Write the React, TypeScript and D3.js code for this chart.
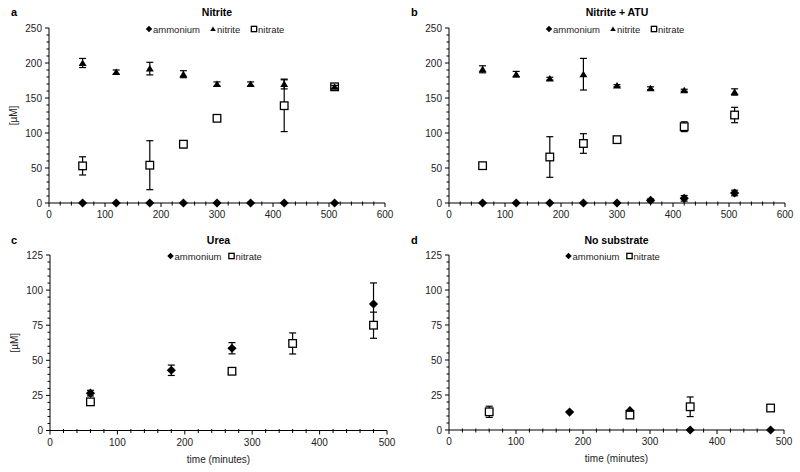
import React from "react";
import * as d3 from "d3";

// ---------- DATA ----------
const timesAB = [60, 120, 180, 240, 300, 360, 420, 510];
const nitrateTimesAB = [60, 180, 240, 300, 420, 510];

// Panel a: Nitrite
const aAmmonium = [0, 0, 0, 0, 0, 0, 0, 0];
const aAmmoniumErr = [0, 0, 0, 0, 0, 0, 0, 0];
const aNitrite = [200, 187, 192, 184, 170, 170, 170, 166];
const aNitriteErr = [6.5, 3, 9, 5, 3, 3, 7, 2];
const aNitrate = [53, 54, 84, 121, 139, 166];
const aNitrateErr = [13, 35, 5, 2, 37, 1];

// Panel b: Nitrite + ATU
const bAmmonium = [0, 0, 0, 0, 0, 3.8, 6.7, 14.3];
const bAmmoniumErr = [0, 0, 0, 0, 0, 2, 4, 4];
const bNitrite = [191, 184, 177.6, 184, 167.6, 164, 161, 158.6];
const bNitriteErr = [5, 4, 2, 22.6, 1.5, 2, 1.5, 4.5];
const bNitrate = [53.3, 65.7, 85, 90.5, 109, 125.7];
const bNitrateErr = [2, 29, 14, 2, 7, 11];

// Panel c: Urea
const cAmmoniumTimes = [60, 180, 270, 480];
const cAmmonium = [26.6, 42.9, 58.6, 90.1];
const cAmmoniumErr = [2, 3.7, 4, 15];
const cNitrateTimes = [60, 270, 360, 480];
const cNitrate = [20.4, 42.2, 62, 75];
const cNitrateErr = [1, 2, 7.5, 9.3];

// Panel d: No substrate
const dAmmoniumTimes = [180, 270, 360, 480];
const dAmmonium = [12.8, 13.8, 0, 0];
const dAmmoniumErr = [0, 0, 0, 0];
const dNitrateTimes = [60, 270, 360, 480];
const dNitrate = [13, 10.7, 16.6, 15.7];
const dNitrateErr = [4, 2, 7, 1];

const FONT = "'Liberation Sans', Arial, sans-serif";

type Series = { kind: "ammonium" | "nitrite" | "nitrate"; t: number[]; v: number[]; e: number[] };

type PanelProps = {
  letter: string;
  title: string;
  x0: number; x1: number; y0: number; y1: number;
  xMax: number; yMax: number; yStep: number; yMinor: number;
  series: Series[];
  legend: { kind: Series["kind"]; dx: number }[];
  yLabel?: boolean; xLabel?: boolean;
  letterX: number; titleY: number;
};

function Marker({ kind, x, y, s = 1 }: { kind: Series["kind"]; x: number; y: number; s?: number }) {
  if (kind === "ammonium") {
    const r = 4.6 * s;
    return <path d={`M${x},${y - r}L${x + r},${y}L${x},${y + r}L${x - r},${y}Z`} fill="#000" />;
  }
  if (kind === "nitrite") {
    const w = 4 * s, h = 6.5 * s;
    return <path d={`M${x},${y - h * 0.55}L${x + w},${y + h * 0.45}L${x - w},${y + h * 0.45}Z`} fill="#000" />;
  }
  const r = 3.8 * s;
  return <rect x={x - r} y={y - r} width={2 * r} height={2 * r} fill="#fff" stroke="#000" strokeWidth={1.3} />;
}

function Panel(p: PanelProps) {
  const x = d3.scaleLinear().domain([0, p.xMax]).range([p.x0, p.x1]);
  const y = d3.scaleLinear().domain([0, p.yMax]).range([p.y0, p.y1]);
  const xMajor = d3.range(0, p.xMax + 1, 100);
  const xMinor = d3.range(0, p.xMax + 1, 20).filter((v) => v % 100 !== 0);
  const yMajor = d3.range(0, p.yMax + 0.001, p.yStep);
  const yMinor = d3.range(0, p.yMax + 0.001, p.yMinor).filter((v) => Math.abs(v / p.yStep - Math.round(v / p.yStep)) > 1e-6);
  const cx = (p.x0 + p.x1) / 2;
  const order: Series["kind"][] = ["ammonium", "nitrate", "nitrite"];
  const sorted = [...p.series].sort((a, b) => order.indexOf(a.kind) - order.indexOf(b.kind));
  return (
    <g fontFamily={FONT}>
      <text x={p.letterX} y={p.titleY} fontSize={11} fontWeight="bold">{p.letter}</text>
      <text x={cx} y={p.titleY} fontSize={10.5} fontWeight="bold" textAnchor="middle">{p.title}</text>
      {/* legend */}
      {p.legend.map((l) => (
        <g key={l.kind}>
          <Marker kind={l.kind} x={cx + l.dx + 3} y={p.y1 + 1} s={0.7} />
          <text x={cx + l.dx + 7} y={p.y1 + 4.5} fontSize={9.5} fill="#222">{l.kind}</text>
        </g>
      ))}
      {/* axes */}
      <line x1={p.x0} x2={p.x0} y1={p.y0} y2={p.y1} stroke="#000" strokeWidth={1} />
      <line x1={p.x0} x2={p.x1} y1={p.y0} y2={p.y0} stroke="#000" strokeWidth={1.2} />
      {yMajor.map((v) => (
        <g key={"ym" + v}>
          <line x1={p.x0 - 4} x2={p.x0} y1={y(v)} y2={y(v)} stroke="#000" />
          <text x={p.x0 - 7} y={y(v) + 3.5} fontSize={10} textAnchor="end" fill="#222">{v}</text>
        </g>
      ))}
      {yMinor.map((v) => (
        <line key={"yn" + v} x1={p.x0 - 2.5} x2={p.x0} y1={y(v)} y2={y(v)} stroke="#000" />
      ))}
      {xMajor.map((v) => (
        <g key={"xm" + v}>
          <line x1={x(v)} x2={x(v)} y1={p.y0} y2={p.y0 + 4} stroke="#000" />
          <text x={x(v)} y={p.y0 + 15} fontSize={10} textAnchor="middle" fill="#222">{v}</text>
        </g>
      ))}
      {xMinor.map((v) => (
        <line key={"xn" + v} x1={x(v)} x2={x(v)} y1={p.y0 - 1.5} y2={p.y0 + 2.5} stroke="#000" />
      ))}
      {p.yLabel && (
        <text transform={`translate(${p.x0 - 32},${(p.y0 + p.y1) / 2}) rotate(-90)`} fontSize={10} textAnchor="middle" fill="#222">[µM]</text>
      )}
      {p.xLabel && (
        <text x={cx} y={p.y0 + 32} fontSize={10} textAnchor="middle" fill="#222">time (minutes)</text>
      )}
      {/* series */}
      {sorted.map((s) => (
        <g key={s.kind}>
          {s.t.map((t, i) =>
            s.e[i] > 0.5 ? (
              <g key={"e" + i} stroke="#000" strokeWidth={1.2}>
                <line x1={x(t)} x2={x(t)} y1={y(s.v[i] - s.e[i])} y2={y(s.v[i] + s.e[i])} />
                <line x1={x(t) - 3.5} x2={x(t) + 3.5} y1={y(s.v[i] + s.e[i])} y2={y(s.v[i] + s.e[i])} />
                <line x1={x(t) - 3.5} x2={x(t) + 3.5} y1={y(s.v[i] - s.e[i])} y2={y(s.v[i] - s.e[i])} />
              </g>
            ) : null
          )}
          {s.t.map((t, i) => (
            <Marker key={"m" + i} kind={s.kind} x={x(t)} y={y(s.v[i])} />
          ))}
        </g>
      ))}
    </g>
  );
}

export default function App() {
  const legend3 = [
    { kind: "ammonium" as const, dx: -71 },
    { kind: "nitrite" as const, dx: -7 },
    { kind: "nitrate" as const, dx: 34 },
  ];
  const legend2 = [
    { kind: "ammonium" as const, dx: -51 },
    { kind: "nitrate" as const, dx: 10 },
  ];
  return (
    <svg width={800} height={472} style={{ position: "absolute", left: 0, top: 0, background: "#fff" }}>
      <Panel letter="a" title="Nitrite" x0={49} x1={385} y0={203} y1={28} xMax={600} yMax={250} yStep={50} yMinor={10}
        letterX={11} titleY={16} yLabel
        series={[
          { kind: "ammonium", t: timesAB, v: aAmmonium, e: aAmmoniumErr },
          { kind: "nitrite", t: timesAB, v: aNitrite, e: aNitriteErr },
          { kind: "nitrate", t: nitrateTimesAB, v: aNitrate, e: aNitrateErr },
        ]}
        legend={legend3} />
      <Panel letter="b" title="Nitrite + ATU" x0={449} x1={785} y0={203} y1={28} xMax={600} yMax={250} yStep={50} yMinor={10}
        letterX={411} titleY={16}
        series={[
          { kind: "ammonium", t: timesAB, v: bAmmonium, e: bAmmoniumErr },
          { kind: "nitrite", t: timesAB, v: bNitrite, e: bNitriteErr },
          { kind: "nitrate", t: nitrateTimesAB, v: bNitrate, e: bNitrateErr },
        ]}
        legend={legend3} />
      <Panel letter="c" title="Urea" x0={50} x1={387} y0={430.5} y1={255} xMax={500} yMax={125} yStep={25} yMinor={5}
        letterX={11} titleY={244} yLabel xLabel
        series={[
          { kind: "ammonium", t: cAmmoniumTimes, v: cAmmonium, e: cAmmoniumErr },
          { kind: "nitrate", t: cNitrateTimes, v: cNitrate, e: cNitrateErr },
        ]}
        legend={legend2} />
      <Panel letter="d" title="No substrate" x0={449} x1={784} y0={430} y1={255} xMax={500} yMax={125} yStep={25} yMinor={5}
        letterX={411} titleY={244} xLabel
        series={[
          { kind: "ammonium", t: dAmmoniumTimes, v: dAmmonium, e: dAmmoniumErr },
          { kind: "nitrate", t: dNitrateTimes, v: dNitrate, e: dNitrateErr },
        ]}
        legend={legend2} />
    </svg>
  );
}
